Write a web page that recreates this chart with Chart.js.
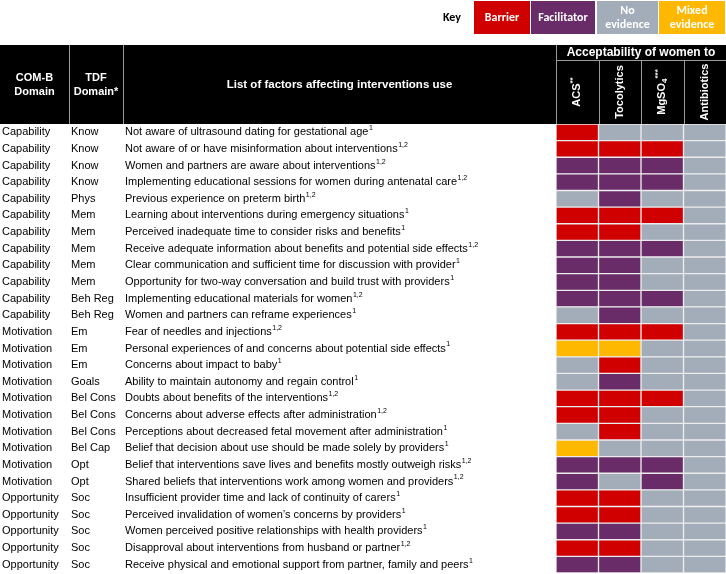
<!DOCTYPE html>
<html>
<head>
<meta charset="utf-8">
<script src="https://cdn.jsdelivr.net/npm/chart.js@4.4.0/dist/chart.umd.min.js"></script>
<style>
html, body { margin: 0; padding: 0; background: #fff; }
#wrap { width: 726px; height: 574px; position: relative; }
</style>
</head>
<body>
<div id="wrap"><canvas id="factorChart"></canvas></div>
<script>
// =======================
// Data
// =======================

const comB = [
    "Capability","Capability","Capability","Capability","Capability","Capability",
    "Capability","Capability","Capability","Capability","Capability","Capability",
    "Motivation","Motivation","Motivation","Motivation","Motivation",
    "Motivation","Motivation","Motivation","Motivation","Motivation",
    "Opportunity","Opportunity","Opportunity","Opportunity","Opportunity"
];

const tdf = [
    "Know","Know","Know","Know","Phys","Mem","Mem","Mem","Mem","Mem","Beh Reg","Beh Reg",
    "Em","Em","Em","Goals","Bel Cons","Bel Cons","Bel Cons","Bel Cap","Opt","Opt",
    "Soc","Soc","Soc","Soc","Soc"
];

const factors = [
    "Not aware of ultrasound dating for gestational age",
    "Not aware of or have misinformation about interventions",
    "Women and partners are aware about interventions",
    "Implementing educational sessions for women during antenatal care",
    "Previous experience on preterm birth",
    "Learning about interventions during emergency situations",
    "Perceived inadequate time to consider risks and benefits",
    "Receive adequate information about benefits and potential side effects",
    "Clear communication and sufficient time for discussion with provider",
    "Opportunity for two-way conversation and build trust with providers",
    "Implementing educational materials for women",
    "Women and partners can reframe experiences",
    "Fear of needles and injections",
    "Personal experiences of and concerns about potential side effects",
    "Concerns about impact to baby",
    "Ability to maintain autonomy and regain control",
    "Doubts about benefits of the interventions",
    "Concerns about adverse effects after administration",
    "Perceptions about decreased fetal movement after administration",
    "Belief that decision about use should be made solely by providers",
    "Belief that interventions save lives and benefits mostly outweigh risks",
    "Shared beliefs that interventions work among women and providers",
    "Insufficient provider time and lack of continuity of carers",
    "Perceived invalidation of women\u2019s concerns by providers",
    "Women perceived positive relationships with health providers",
    "Disapproval about interventions from husband or partner",
    "Receive physical and emotional support from partner, family and peers"
];

const refs = [
    "1","1,2","1,2","1,2","1,2","1","1","1,2","1","1","1,2","1",
    "1,2","1","1","1","1,2","1,2","1","1","1,2","1,2",
    "1","1","1","1,2","1"
];

const interventions = ["ACS", "Tocolytics", "MgSO4", "Antibiotics"];

// B = barrier, F = facilitator, N = no evidence, M = mixed evidence
const acsStatus =         ["B","B","F","F","N","B","B","F","F","F","F","N","B","M","N","N","B","B","N","M","F","F","B","B","F","B","F"];
const tocolyticsStatus =  ["N","B","F","F","F","B","B","F","F","F","F","F","B","M","B","F","B","B","B","N","F","N","B","B","F","B","F"];
const mgso4Status =       ["N","B","F","F","N","B","N","F","N","N","F","N","B","N","N","N","B","N","N","N","F","F","N","N","N","N","N"];
const antibioticsStatus = ["N","N","N","N","N","N","N","N","N","N","N","N","N","N","N","N","N","N","N","N","N","N","N","N","N","N","N"];

const keyCodes = ["B", "F", "N", "M"];
const keyLabels = [["Barrier"], ["Facilitator"], ["No", "evidence"], ["Mixed", "evidence"]];

// =======================
// Styles
// =======================

const statusColors = {
    B: "#d10000",
    F: "#6a2c69",
    N: "#a3acb9",
    M: "#ffb800"
};

const bodyFont = "'Liberation Sans', Arial, sans-serif";
const keyFont = "Carlito, 'Liberation Sans Narrow', 'Liberation Sans', sans-serif";

Chart.defaults.font.family = bodyFont;

const statusSets = [acsStatus, tocolyticsStatus, mgso4Status, antibioticsStatus];

// =======================
// Header + key plugin
// =======================

const headerParts = {
    "ACS": [{ t: "ACS" }, { t: "**", sup: true }],
    "Tocolytics": [{ t: "Tocolytics" }],
    "MgSO4": [{ t: "MgSO" }, { t: "4", sub: true }, { t: "***", sup: true }],
    "Antibiotics": [{ t: "Antibiotics" }]
};

const tableHeader = {
    id: "tableHeader",
    afterDraw(chart) {
        const { ctx, chartArea, scales } = chart;
        const xs = scales.x;
        const top = 45;
        const bottom = chartArea.top;
        const subTop = 60;

        ctx.save();

        // key
        ctx.fillStyle = "#000";
        ctx.font = "bold 12px " + keyFont;
        ctx.textAlign = "center";
        ctx.textBaseline = "middle";
        ctx.fillText("Key", 452, 18);

        const keyBoxes = [[474, 56], [531, 64], [597, 61], [659, 66]];
        keyCodes.forEach((code, i) => {
            const [bx, bw] = keyBoxes[i];
            ctx.fillStyle = statusColors[code];
            ctx.fillRect(bx, 1, bw, 33);
            ctx.fillStyle = "#fff";
            const lines = keyLabels[i];
            lines.forEach((line, j) => {
                const ly = lines.length === 1 ? 18 : 11 + j * 14;
                ctx.fillText(line, bx + bw / 2, ly);
            });
        });

        // black header
        ctx.fillStyle = "#000";
        ctx.fillRect(0, top, chart.width, bottom - top);

        ctx.strokeStyle = "#9a9a9a";
        ctx.lineWidth = 1;
        ctx.beginPath();
        const c1 = scales.tdf.left - 2;
        const c2 = scales.y.left - 2;
        const c3 = chartArea.left;
        [c1, c2, c3].forEach(cx => {
            ctx.moveTo(Math.round(cx) + 0.5, top);
            ctx.lineTo(Math.round(cx) + 0.5, bottom);
        });
        ctx.moveTo(c3, subTop + 0.5);
        ctx.lineTo(chartArea.right, subTop + 0.5);
        for (let k = 1; k < interventions.length; k++) {
            const px = Math.round(xs.getPixelForValue(k)) + 0.5;
            ctx.moveTo(px, subTop);
            ctx.lineTo(px, bottom);
        }
        ctx.stroke();

        ctx.fillStyle = "#fff";
        ctx.font = "bold 11px " + bodyFont;
        ctx.textAlign = "center";
        ctx.fillText("COM-B", c1 / 2, 78);
        ctx.fillText("Domain", c1 / 2, 92);
        ctx.fillText("TDF", (c1 + c2) / 2, 78);
        ctx.fillText("Domain*", (c1 + c2) / 2, 92);
        ctx.font = "bold 11.5px " + bodyFont;
        ctx.fillText("List of factors affecting interventions use", (c2 + c3) / 2, 85);
        ctx.font = "bold 12px " + bodyFont;
        ctx.fillText("Acceptability of women to", (c3 + chartArea.right) / 2, 52.5);

        // rotated column headers
        interventions.forEach((name, k) => {
            const cx = xs.getPixelForValue(k + 0.5);
            const parts = headerParts[name];
            const widths = parts.map(p => {
                ctx.font = (p.sup || p.sub ? "bold 8px " : "bold 11px ") + bodyFont;
                return ctx.measureText(p.t).width;
            });
            const total = widths.reduce((a, b) => a + b, 0);
            ctx.save();
            ctx.translate(cx, 92);
            ctx.rotate(-Math.PI / 2);
            ctx.textAlign = "left";
            let px = -total / 2;
            parts.forEach((p, i) => {
                ctx.font = (p.sup || p.sub ? "bold 8px " : "bold 11px ") + bodyFont;
                const dy = p.sup ? -4 : (p.sub ? 3 : 0);
                ctx.fillText(p.t, px, dy);
                px += widths[i];
            });
            ctx.restore();
        });

        // superscript references after each factor
        const ys = scales.y;
        ctx.textAlign = "left";
        ctx.fillStyle = "#000";
        factors.forEach((f, i) => {
            const y = ys.getPixelForValue(i);
            ctx.font = "11px " + bodyFont;
            const w = ctx.measureText(f).width;
            ctx.font = "7px " + bodyFont;
            ctx.fillText(refs[i], ys.left + w + 0.5, y - 4);
        });

        ctx.restore();
    }
};

// =======================
// Chart
// =======================

const labelAxis = (labels, width, weight) => ({
    type: "category",
    labels: labels,
    position: "left",
    weight: weight,
    offset: true,
    grid: { display: false },
    border: { display: false },
    ticks: {
        autoSkip: false,
        crossAlign: "far",
        color: "#000",
        font: { family: bodyFont, size: 11 }
    },
    afterFit(scale) {
        scale.width = width;
        scale.paddingTop = 0;
        scale.paddingBottom = 0;
    }
});

const factorCanvas = document.getElementById("factorChart");

new Chart(factorCanvas, {
    type: "bar",
    data: {
        labels: factors,
        datasets: statusSets.map((st, k) => ({
            label: interventions[k],
            data: st.map(() => 1),
            backgroundColor: st.map(s => statusColors[s]),
            borderColor: "#ececec",
            borderWidth: 1,
            borderSkipped: false,
            barPercentage: 1,
            categoryPercentage: 1
        }))
    },
    options: {
        indexAxis: "y",
        responsive: true,
        maintainAspectRatio: false,
        animation: false,
        layout: {
            padding: { top: 124, left: 2, right: 0, bottom: 1 }
        },
        scales: {
            x: {
                stacked: true,
                min: 0,
                max: interventions.length,
                display: false
            },
            y: Object.assign(labelAxis(factors, 431, 1), { stacked: true }),
            tdf: labelAxis(tdf, 54, 2),
            comb: labelAxis(comB, 69, 3)
        },
        plugins: {
            legend: { display: false },
            tooltip: { enabled: false }
        }
    },
    plugins: [tableHeader]
});
</script>
</body>
</html>
